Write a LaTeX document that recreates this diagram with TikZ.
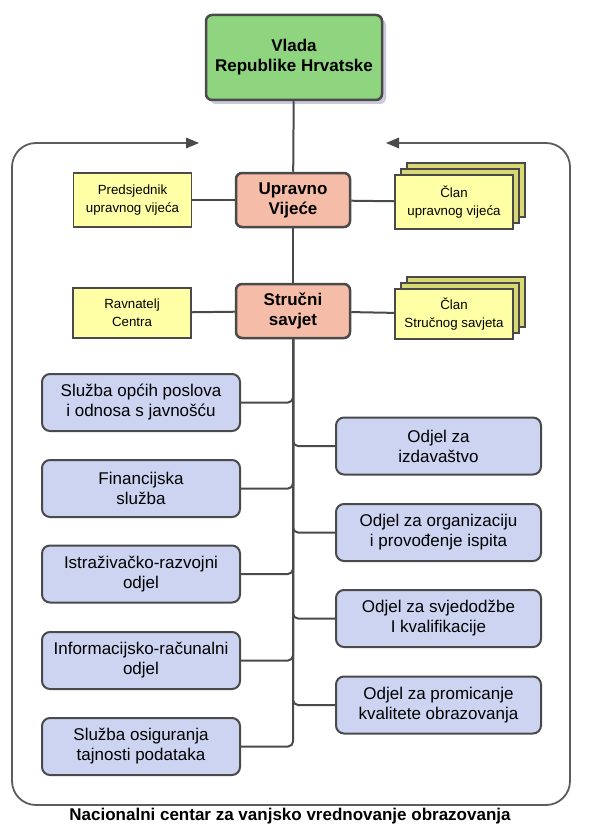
\documentclass[tikz,border=0pt]{standalone}
\usepackage{fontspec}
\setmainfont{Liberation Sans}
\usepackage{tikz}
\usetikzlibrary{shadows}

\definecolor{govgreen}{HTML}{8FD47E}
\definecolor{councilred}{HTML}{F5BDA8}
\definecolor{memberyellow}{HTML}{FFFFA6}
\definecolor{unitblue}{HTML}{CCD4F2}
\definecolor{boxline}{HTML}{4A4A4A}

\begin{document}
\begin{tikzpicture}[x=1pt, y=-1pt,
	govbox/.style={draw=boxline, line width=2.5pt, rounded corners=6pt, fill=govgreen, align=center,
		font=\fontsize{17}{20}\selectfont\bfseries, minimum width=176pt, minimum height=85pt,
		drop shadow={shadow xshift=4pt, shadow yshift=-4pt, fill=blue!20!gray, opacity=0.35}},
	councilbox/.style={draw=boxline, line width=2.5pt, rounded corners=6pt, fill=councilred, align=center,
		font=\fontsize{17}{20}\selectfont\bfseries, minimum width=114pt, minimum height=54pt},
	memberbox/.style={draw=boxline, line width=1.5pt, fill=memberyellow, align=center,
		font=\fontsize{13.3}{18}\selectfont, minimum width=118pt, minimum height=54pt},
	stackbox/.style={memberbox, double copy shadow={shadow xshift=6pt, shadow yshift=6pt, fill=memberyellow!70!olive, draw=boxline}},
	unitbox/.style={draw=boxline, line width=2pt, rounded corners=8pt, fill=unitblue, align=center,
		font=\fontsize{17}{20}\selectfont, minimum height=57pt},
	conn/.style={draw=boxline, line width=2pt},
	frame/.style={draw=boxline!90, line width=1.8pt}]

	\useasboundingbox (0,0) rectangle (589,824);

	% frame with the two arrows on top
	\coordinate (arrl) at (199,143);
	\coordinate (arrr) at (386,143);
	\draw [frame, rounded corners=24pt] (188,143) -- (12,143) -- (12,805) -- (570,805) -- (570,143) -- (397,143);
	\fill [boxline] (arrl) -- ++(-13,-5.5) -- ++(0,11) -- cycle;
	\fill [boxline] (arrr) -- ++(13,-5.5) -- ++(0,11) -- cycle;

	\node [govbox] (vlada) at (294,57.5) {Vlada\\Republike Hrvatske};

	\node [councilbox] (upravno) at (293,200) {Upravno\\Vijeće};
	\node [councilbox] (strucni) at (293,311) {Stručni\\savjet};

	\node [memberbox] (predsj) at (132.5,200) {Predsjednik\\upravnog vijeća};
	\node [stackbox] (clanuv) at (454,202) {Član\\upravnog vijeća};
	\node [memberbox, minimum height=50pt] (ravnatelj) at (132,313) {Ravnatelj\\Centra};
	\node [stackbox, minimum height=50pt] (clansv) at (454,314) {Član\\Stručnog savjeta};

	% units on the left
	\node [unitbox, minimum width=198pt] (opci) at (141,402.5) {Služba općih poslova\\i odnosa s javnošću};
	\node [unitbox, minimum width=198pt] (financ) at (141,488.5) {Financijska\\služba};
	\node [unitbox, minimum width=198pt] (istraz) at (141,574) {Istraživačko-razvojni\\odjel};
	\node [unitbox, minimum width=198pt] (inform) at (141,660.5) {Informacijsko-računalni\\odjel};
	\node [unitbox, minimum width=198pt] (tajnost) at (141,746.5) {Služba osiguranja\\tajnosti podataka};

	% units on the right
	\node [unitbox, minimum width=205pt] (izdav) at (438.5,446) {Odjel za\\izdavaštvo};
	\node [unitbox, minimum width=205pt] (ispiti) at (438.5,532.5) {Odjel za organizaciju\\i provođenje ispita};
	\node [unitbox, minimum width=205pt] (svjed) at (438.5,618.5) {Odjel za svjedodžbe\\I kvalifikacije};
	\node [unitbox, minimum width=205pt] (kvalit) at (438.5,705) {Odjel za promicanje\\kvalitete obrazovanja};

	\node [font=\fontsize{17}{20}\selectfont\bfseries] (naslov) at (290,816) {Nacionalni centar za vanjsko vrednovanje obrazovanja};

	\draw [conn] (vlada) -- (upravno);
	\draw [conn] (upravno) -- (strucni);
	\draw [conn] (predsj) -- (upravno);
	\draw [conn] (upravno) -- (clanuv);
	\draw [conn] (ravnatelj) -- (strucni);
	\draw [conn] (strucni) -- (clansv);
	\foreach \unit in {opci,financ,istraz,inform,tajnost,izdav,ispiti,svjed,kvalit}
		\draw [conn, rounded corners=5pt] (strucni.south) |- (\unit);

\end{tikzpicture}
\end{document}
